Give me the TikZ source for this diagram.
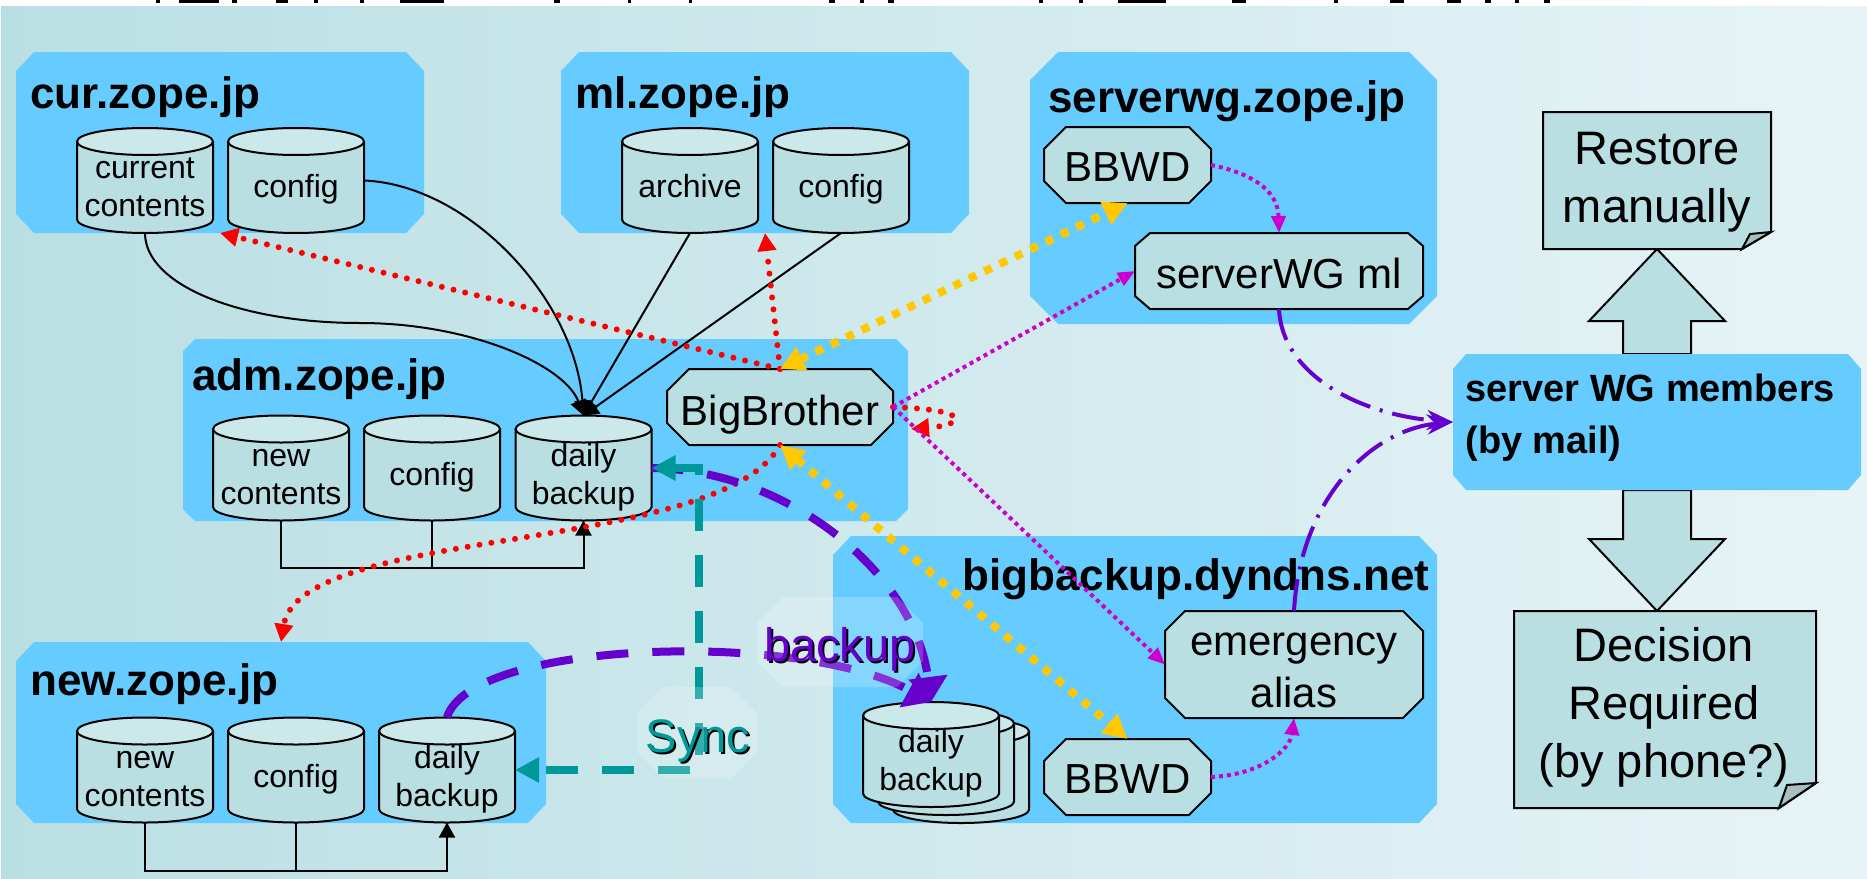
\documentclass[tikz,border=0pt]{standalone}
\usepackage{fontspec}
\setmainfont{Liberation Sans}
\usetikzlibrary{arrows.meta}
\definecolor{skyfill}{HTML}{66CCFF}
\definecolor{nodefill}{HTML}{BADFE3}
\definecolor{topfill}{HTML}{CBE8EB}
\definecolor{foldfill}{HTML}{A9BEC1}
\definecolor{bgright}{HTML}{E7F4F7}
\definecolor{ambline}{HTML}{FFC800}
\definecolor{magline}{HTML}{CC00CC}
\definecolor{violine}{HTML}{6600CC}
\definecolor{tealline}{HTML}{009999}
\tikzset{
  hostbox/.style={fill=skyfill},
  hostname/.style={anchor=base west,inner sep=0pt,font=\fontsize{22pt}{26pt}\selectfont\bfseries},
  dbase/.style={draw,line width=1pt,fill=nodefill},
  dbtext/.style={align=center,inner sep=0pt,font=\fontsize{16pt}{19pt}\selectfont},
  octbox/.style={draw,line width=1pt,fill=nodefill},
  octtext/.style={align=center,inner sep=0pt,font=\fontsize{21pt}{26pt}\selectfont},
  notetext/.style={align=center,inner sep=0pt,font=\fontsize{23.5pt}{29pt}\selectfont},
  blockshape/.style={draw,line width=1pt,fill=nodefill},
  glasspatch/.style={fill=white,fill opacity=0.2},
  floattext/.style={inner sep=0pt,font=\fontsize{23.5pt}{28pt}\selectfont},
  blackline/.style={line width=1pt,-{Triangle[length=7.5pt,width=8pt]}},
  redline/.style={red,line width=3pt,line cap=round,dash pattern=on 0pt off 6pt,-{Triangle[length=9pt,width=9pt]}},
  ambtip/.style={ambline,line width=4pt,dash pattern=on 4pt off 4.5pt,{Triangle[length=12pt,width=12pt]}-{Triangle[length=12pt,width=12pt]}},
  magtip/.style={magline,line width=2pt,dash pattern=on 2pt off 2pt,-{Triangle[length=8.5pt,width=7pt]}},
  mailline/.style={violine,line width=2pt,dash pattern=on 16pt off 5pt on 1.5pt off 5pt,-{Stealth[length=13pt,width=10pt]}},
  backupline/.style={violine,line width=4pt,dash pattern=on 16pt off 12pt,-{Triangle[length=12.5pt,width=19pt]}},
  syncline/.style={tealline,line width=4pt,dash pattern=on 16pt off 12pt,{Triangle[length=12pt,width=12pt]}-{Triangle[length=12pt,width=12pt]}},
}
% cut-corner box with an empty node on it: [look]{name}{x0}{y0}{x1}{y1}{cut x}{cut y}
\newcommand{\octnode}[8][]{%
  \path[#1] ({#3+#7},#4)--({#5-#7},#4)--(#5,{#4+#8})--(#5,{#6-#8})--({#5-#7},#6)--({#3+#7},#6)--(#3,{#6-#8})--(#3,{#4+#8})--cycle;
  \node[inner sep=0pt,outer sep=0pt,minimum width={(#5-#3)*0.5pt},minimum height={(#6-#4)*0.5pt}] (#2) at ({(#3+#5)/2},{(#4+#6)/2}) {};
}
% drum of 136x105: {name}{centre x}{centre y}{text}
\newcommand{\dbnode}[4]{%
  \draw[dbase] ({#2-68},{#3-39}) -- ({#2-68},{#3+39}) arc[start angle=180,end angle=360,x radius=34pt,y radius=6.75pt] -- ({#2+68},{#3-39});
  \draw[dbase,fill=topfill] (#2,{#3-39}) ellipse[x radius=34pt,y radius=6.75pt];
  \node[inner sep=0pt,outer sep=0pt,minimum width=68pt,minimum height=52.5pt] (#1) at (#2,#3) {};
  \node[dbtext] (#1text) at (#2,{#3+9.5}) {\strut #4\strut};
}
\begin{document}
\begin{tikzpicture}[x=0.5pt,y=-0.5pt,line join=miter]
  \useasboundingbox (0,0) rectangle (1867,878);
  \fill[white] (0,0) rectangle (1867,878);
  \shade[left color=nodefill,right color=bgright] (1,6) rectangle (1867,878);
  % what is left of the slide title
  \foreach \x/\w in {156/4,179/40,232/5,276/12,314/4,360/4,400/44,554/6,628/3,689/3,829/6,860/4,888/6,1039/4,1079/4,1118/48,1232/14,1334/4,1390/14,1447/14,1485/6,1515/4,1544/6}
    \fill (\x,0) rectangle ++(\w,3);
  % hosts
  \octnode[hostbox]{curbox}{16}{52}{424}{233}{18}{19}
  \octnode[hostbox]{mlbox}{561}{52}{969}{233}{18}{19}
  \octnode[hostbox]{wgbox}{1030}{52}{1437}{324}{28}{28}
  \octnode[hostbox]{admbox}{183}{339}{908}{521}{12}{12}
  \octnode[hostbox]{newbox}{16}{642}{546}{823}{18}{19}
  \octnode[hostbox]{bigbox}{833}{536}{1437}{823}{18}{19}
  % block arrows and notes
  \draw[blockshape] (1657,249)--(1725,321)--(1691,321)--(1691,354)--(1623,354)--(1623,321)--(1589,321)--cycle;
  \draw[blockshape] (1657,611)--(1725,539)--(1691,539)--(1691,490)--(1623,490)--(1623,539)--(1589,539)--cycle;
  \octnode[hostbox]{mailbox}{1453}{354}{1861}{490}{13}{15}
  \draw[blockshape] (1543,112)--(1771,112)--(1771,232)--(1742,249)--(1543,249)--cycle;
  \draw[line width=1pt,fill=foldfill] (1742,249)--(1750,234)--(1771,232)--cycle;
  \draw[blockshape] (1514,611)--(1816,611)--(1816,783)--(1779,808)--(1514,808)--cycle;
  \draw[line width=1pt,fill=foldfill] (1779,808)--(1787,785)--(1816,783)--cycle;
  \node[notetext] (restore) at (1657,182) {Restore\\manually};
  \node[notetext] (decision) at (1664,707) {Decision\\Required\\(by phone?)};
  % host names
  \node[hostname] (curname) at (30,108) {cur.zope.jp};
  \node[hostname] (mlname) at (575,108) {ml.zope.jp};
  \node[hostname] (wgname) at (1048,112) {serverwg.zope.jp};
  \node[hostname] (admname) at (192,390) {adm.zope.jp};
  \node[hostname] (newname) at (30,695) {new.zope.jp};
  \node[hostname] (bigname) at (962,590) {bigbackup.dyndns.net};
  \node[hostname,align=left,anchor=north west,font=\fontsize{19pt}{26pt}\selectfont\bfseries] (mailname) at (1465,374) {server WG members\\(by mail)};
  % databases
  \dbnode{curcontents}{145}{180.5}{current\\contents}
  \dbnode{curconfig}{296}{180.5}{config}
  \dbnode{mlarchive}{690}{180.5}{archive}
  \dbnode{mlconfig}{841}{180.5}{config}
  \dbnode{admcontents}{281}{468}{new\\contents}
  \dbnode{admconfig}{432}{468}{config}
  \dbnode{admdaily}{583.5}{468}{daily\\backup}
  \dbnode{newcontents}{145}{770}{new\\contents}
  \dbnode{newconfig}{296}{770}{config}
  \dbnode{newdaily}{447}{770}{daily\\backup}
  \dbnode{stackthree}{961}{770.5}{}
  \dbnode{stacktwo}{946}{762.5}{}
  \dbnode{stackone}{931}{754.5}{daily\\backup}
  % programs
  \octnode[octbox]{bigbrother}{667}{369}{893}{445}{22}{22}
  \node[octtext] (bigbrothertext) at (780,415) {BigBrother};
  \octnode[octbox]{bbwdtop}{1044}{127}{1211}{203}{22}{22}
  \node[octtext] (bbwdtoptext) at (1127.5,167) {BBWD};
  \octnode[octbox]{wgml}{1135}{233}{1423}{309}{15}{13}
  \node[octtext] (wgmltext) at (1279,273.5) {serverWG ml};
  \octnode[octbox]{bbwdlow}{1044}{739}{1211}{815}{22}{22}
  \node[octtext] (bbwdlowtext) at (1127.5,779) {BBWD};
  \octnode[octbox]{emergency}{1165}{611}{1423}{718}{20}{20}
  \node[octtext] (emergencytext) at (1294,670.5) {emergency\\alias};
  % local copies
  \draw[blackline] (curcontents.south) .. controls (145,285) and (240,323) .. (360,323) .. controls (470,323) and (565,365) .. (admdaily.north);
  \draw[blackline] (curconfig.east) .. controls (470,185) and (575,300) .. (admdaily.north);
  \draw[blackline] (mlarchive.south) -- (admdaily.north);
  \draw[blackline] (mlconfig.south) -- (admdaily.north);
  \draw[blackline] (admcontents.south) |- (432,568) -| (admdaily.south);
  \draw[line width=1pt] (admconfig.south) -- (432,568);
  \draw[blackline] (newcontents.south) |- (296,871) -| (newdaily.south);
  \draw[line width=1pt] (newconfig.south) -- (296,871);
  % monitoring
  \coordinate (loopend) at (911,429);
  \draw[redline] (bigbrother.north) -- (curbox.south);
  \draw[redline] (bigbrother.north) -- (mlbox.south);
  \draw[redline] (bigbrother.south) .. controls (720,555) and (300,525) .. (newbox.north);
  \draw[redline] (bigbrother.east) .. controls (975,410) and (965,425) .. (loopend);
  \draw[ambtip] (bigbrother.north) -- (bbwdtop.south);
  \draw[ambtip] (bigbrother.south) -- (bbwdlow.north);
  \draw[magtip] (bbwdtop.east) .. controls (1260,175) and (1278,195) .. (wgml.north);
  \draw[magtip] (bbwdlow.east) .. controls (1260,775) and (1290,750) .. (emergency.south);
  \draw[magtip] (bigbrother.east) -- (wgml.west);
  \draw[magtip] (bigbrother.east) -- (emergency.west);
  \draw[mailline] (wgml.south) .. controls (1282,375) and (1360,415) .. (mailbox.west);
  \draw[mailline] (emergency.north) .. controls (1300,500) and (1370,430) .. (mailbox.west);
  % backup and sync
  \coordinate (syncturn) at (699,770);
  \draw[backupline] (admdaily.east) .. controls (790,470) and (915,575) .. (stackone.north);
  \draw[backupline] (newdaily.north) .. controls (470,640) and (800,630) .. (stackone.north);
  \draw[syncline] (admdaily.east) -| (syncturn) -- (newdaily.east);
  \octnode[glasspatch]{backuppatch}{757}{597}{923}{687}{26}{26}
  \octnode[glasspatch]{syncpatch}{637}{687}{757}{778}{26}{26}
  \node[floattext] (backupshade) at (842,651) {backup};
  \node[floattext,text=violine] (backuplabel) at (840,649) {backup};
  \node[floattext] (syncshade) at (700,743) {Sync};
  \node[floattext,text=tealline] (synclabel) at (698,741) {Sync};
\end{tikzpicture}
\end{document}
